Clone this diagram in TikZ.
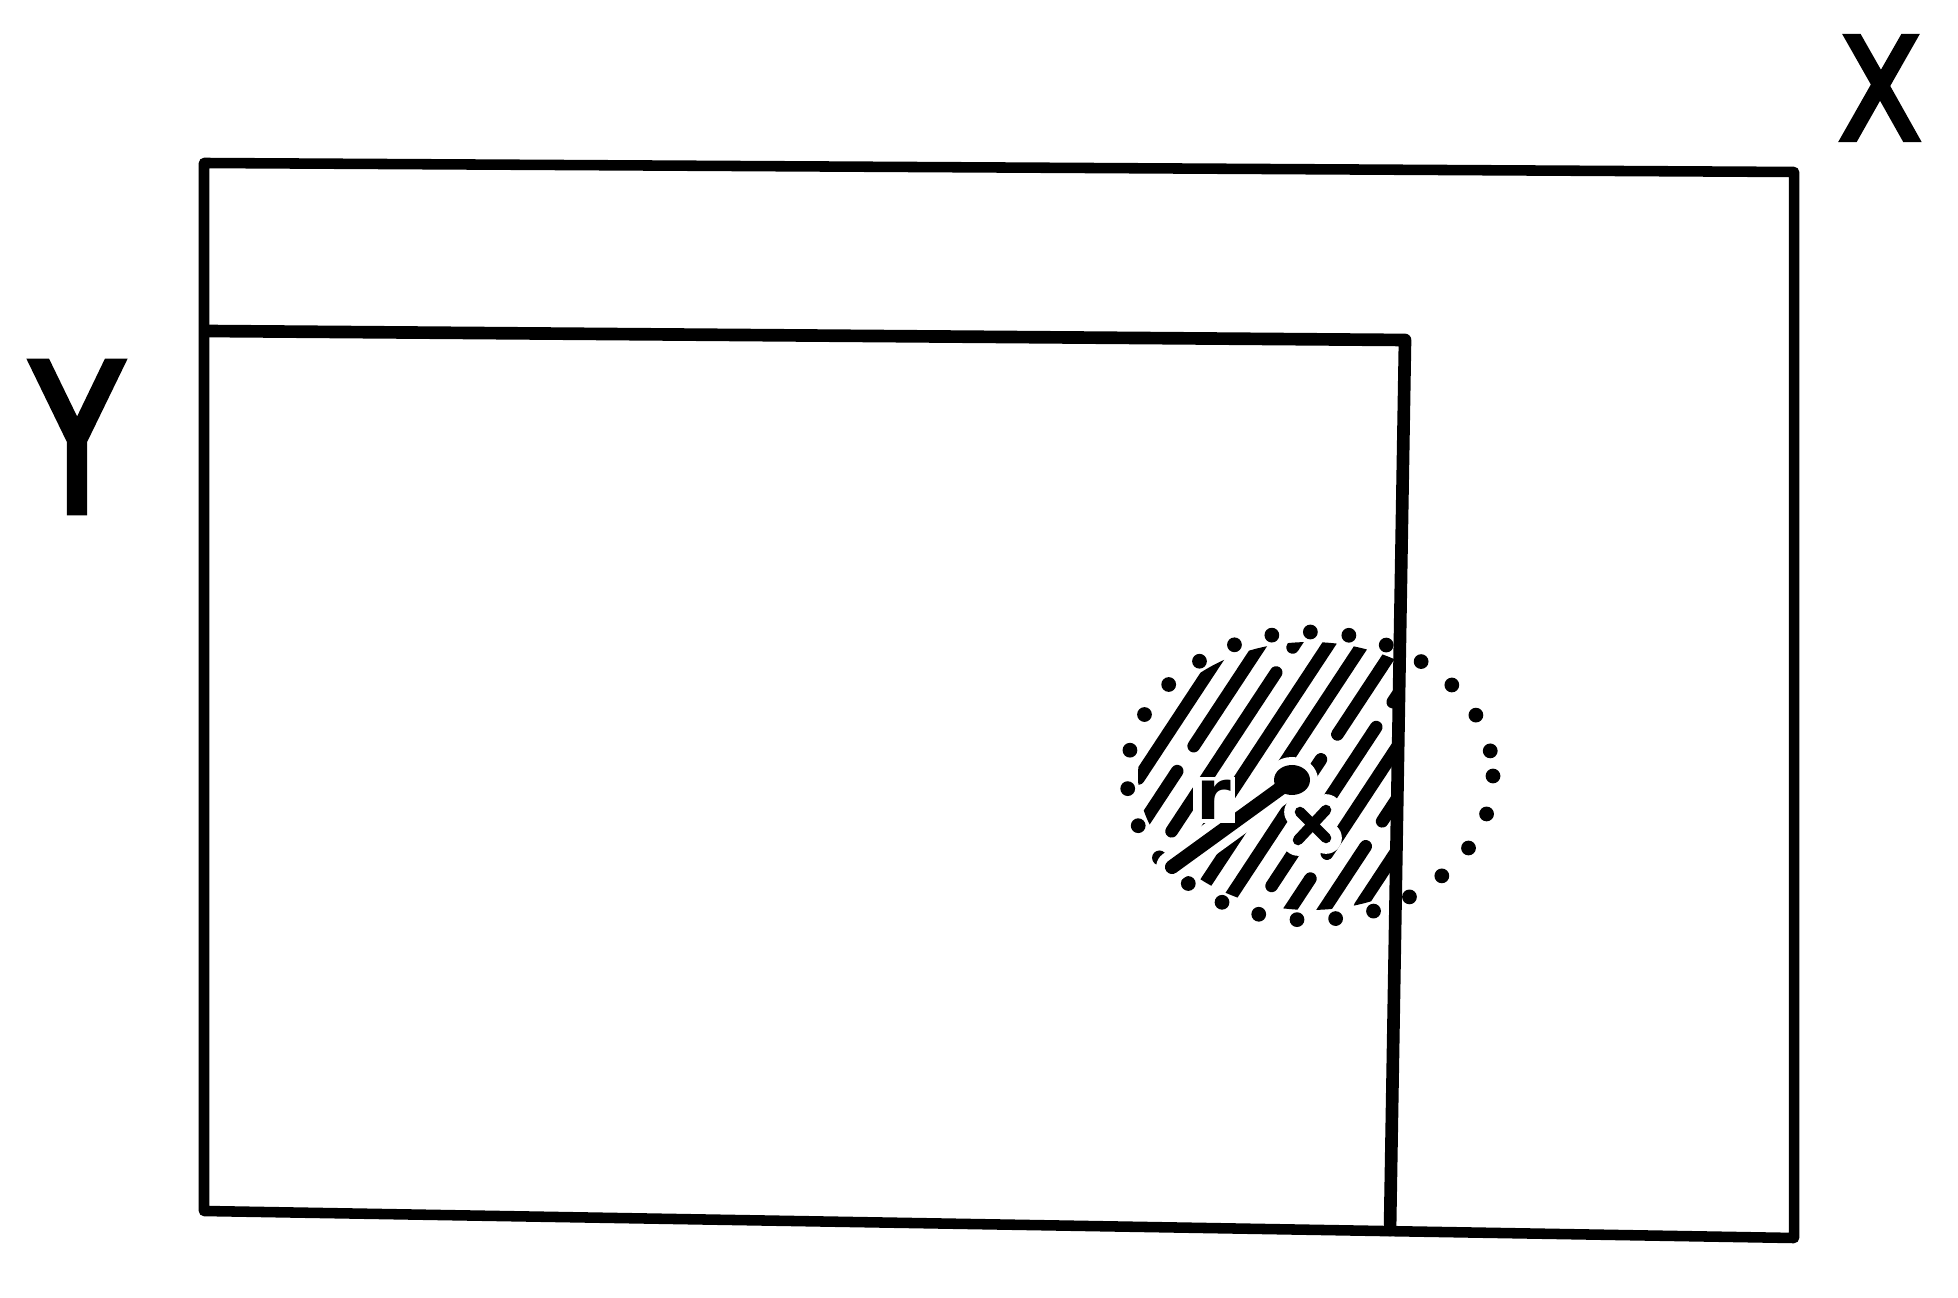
\documentclass[tikz,border=0pt]{standalone}
\usepackage{fontspec}
\usepackage{graphicx}
\setmainfont{DejaVu Sans}
\newfontfamily\lblfont[FakeBold=4]{DejaVu Sans}
\begin{document}
\begin{tikzpicture}[x=0.01cm,y=-0.01cm,
  outerline/.style={line width=3pt, line cap=round, line join=round},
  innerline/.style={line width=3.6pt, line cap=round, line join=round},
  lbl/.style={inner sep=0pt},
  hatch/.style={line width=3.6pt, line cap=round},
  halo/.style={white, line width=9pt, line cap=round},
  dotring/.style={line width=4.2pt, line cap=round, dash pattern=on 0pt off 11pt}]
\useasboundingbox (0,0) rectangle (1958,1298);
% outer rectangle X
\coordinate (xtl) at (204,163);
\coordinate (xtr) at (1794,172);
\coordinate (xbr) at (1794,1238);
\coordinate (xbl) at (204,1211);
\draw[outerline] (xtl) -- (xtr) -- (xbr) -- (xbl) -- cycle;
% inner rectangle Y
\coordinate (ytl) at (206,331);
\coordinate (ytr) at (1405,340);
\coordinate (ybr) at (1390,1230);
\draw[innerline] (ytl) -- (ytr) -- (ybr);
% labels
\node[lbl, font=\fontsize{40}{42}\selectfont\lblfont] (X) at (1880,88) {\scalebox{0.85}[1]{X}};
\node[lbl, font=\fontsize{58}{60}\selectfont\lblfont] (Y) at (77,437) {\scalebox{0.72}[1]{Y}};
% hatched zone
\coordinate (c) at (1310,776);
\begin{scope}
  \clip (c) ellipse [x radius=172, y radius=134];
  \clip (1100,600) rectangle (1398,950);
  \foreach \i [evaluate=\i as \ph using {mod(\i*11,40)}] in {-9,...,9}{
    \draw[hatch, dash pattern=on 1.9cm off 0.3cm, dash phase=\ph pt]
      (1310+\i*34+0.55*240, 776-0.835*240) -- (1310+\i*34-0.55*240, 776+0.835*240);
  }
\end{scope}
\draw[dotring] (c) ellipse [x radius=183, y radius=144];
% radius with centre dot
\coordinate (rc) at (1292,780);
\coordinate (rend) at (1172,867);
\coordinate (cx1) at (1300,812);
\coordinate (cx2) at (1326,838);
\coordinate (cx3) at (1326,810);
\coordinate (cx4) at (1298,840);
\draw[halo] (rc) -- (rend);
\fill[white] (rc) ellipse [x radius=26, y radius=23];
\draw[halo] (cx1) -- (cx2) (cx3) -- (cx4);
\fill[black] (rc) ellipse [x radius=18, y radius=15];
\draw[line width=4pt, line cap=round] (rc) -- (rend);
\node[font=\fontsize{20}{20}\selectfont\bfseries, inner sep=1pt, fill=white] (r) at (1214,800) {r};
% small cross
\draw[line width=3pt, line cap=round] (cx1) -- (cx2) (cx3) -- (cx4);
\end{tikzpicture}
\end{document}
